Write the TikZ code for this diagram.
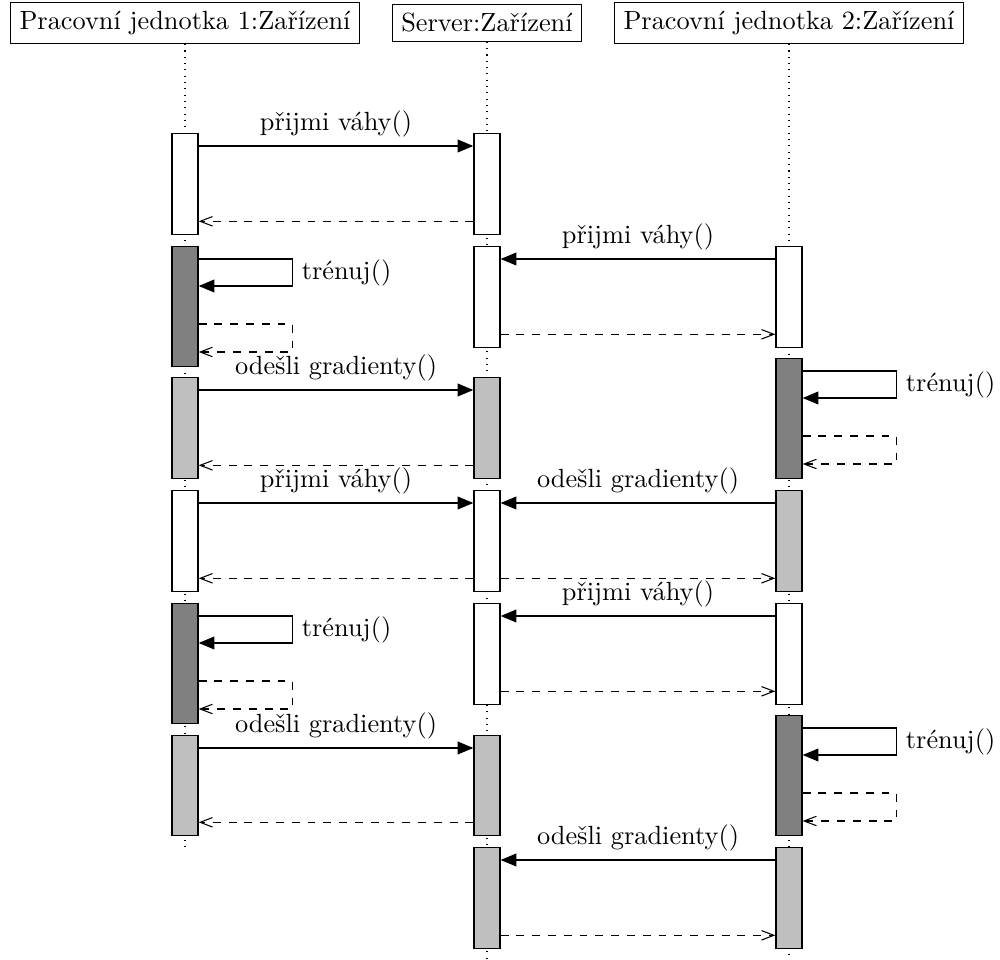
\documentclass[tikz,border=0pt]{standalone}
\usepackage{fontspec}
\usetikzlibrary{arrows.meta}

% activation box: #1 name, #2 x of lifeline, #3 top, #4 bottom, #5 fill
\newcommand\actbox[5]{%
  \node[actstyle, fill=#5, minimum height={(#4-#3)*0.38pt}] (#1) at (#2,#3) {};}

\begin{document}
\begin{tikzpicture}[x=0.38pt,y=-0.38pt,
  thread/.style={draw, line width=0.4pt, fill=white, inner sep=3.33pt},
  lifeline/.style={dotted, line width=0.4pt},
  actstyle/.style={draw, line width=0.5pt, anchor=north, inner sep=0pt,
    minimum width={26*0.38pt}},
  call/.style={line width=0.4pt, -{Triangle[length=6pt,width=4.9pt]}},
  ret/.style={dashed, line width=0.4pt, -{Straight Barb[length=4.7pt,width=3.6pt]}},
  lbl/.style={above, inner sep=3.33pt},
  slbl/.style={right, inner sep=3.33pt},
]
\useasboundingbox (0,0) rectangle (1000,960);

% objects
\node[thread] (h1) at (185,23) {Pracovní jednotka 1:Zařízení};
\node[thread] (h2) at (487,23) {Server:Zařízení};
\node[thread] (h3) at (789,23) {Pracovní jednotka 2:Zařízení};

% lifelines
\coordinate (e1) at (185,848);
\coordinate (e2) at (487,962);
\coordinate (e3) at (789,962);
\draw[lifeline] (h1.south) -- (e1);
\draw[lifeline] (h2.south) -- (e2);
\draw[lifeline] (h3.south) -- (e3);

% activations, workstation 1
\actbox{A1}{185}{133}{234}{white}
\actbox{A2}{185}{246}{366}{gray}
\actbox{A3}{185}{377}{478}{lightgray}
\actbox{A4}{185}{490}{591}{white}
\actbox{A5}{185}{603}{723}{gray}
\actbox{A6}{185}{735}{835}{lightgray}
% activations, server
\actbox{B1}{487}{133}{234}{white}
\actbox{B2}{487}{246}{347}{white}
\actbox{B3}{487}{377}{478}{lightgray}
\actbox{B4}{487}{490}{591}{white}
\actbox{B5}{487}{603}{704}{white}
\actbox{B6}{487}{735}{835}{lightgray}
\actbox{B7}{487}{847}{948}{lightgray}
% activations, workstation 2
\actbox{C1}{789}{246}{347}{white}
\actbox{C2}{789}{358}{478}{gray}
\actbox{C3}{789}{490}{591}{lightgray}
\actbox{C4}{789}{603}{704}{white}
\actbox{C5}{789}{715}{835}{gray}
\actbox{C6}{789}{847}{948}{lightgray}

% calls from workstation 1 to the server
\draw[call] (A1.north east) ++(0,13) coordinate (m1) -- node[lbl] {přijmi váhy()} (B1.west |- m1);
\draw[ret] (B1.south west) ++(0,-14) coordinate (r1) -- (A1.east |- r1);
\draw[call] (A3.north east) ++(0,13) coordinate (m3) -- node[lbl] {odešli gradienty()} (B3.west |- m3);
\draw[ret] (B3.south west) ++(0,-14) coordinate (r3) -- (A3.east |- r3);
\draw[call] (A4.north east) ++(0,13) coordinate (m4) -- node[lbl] {přijmi váhy()} (B4.west |- m4);
\draw[ret] (B4.south west) ++(0,-14) coordinate (r4) -- (A4.east |- r4);
\draw[call] (A6.north east) ++(0,13) coordinate (m6) -- node[lbl] {odešli gradienty()} (B6.west |- m6);
\draw[ret] (B6.south west) ++(0,-14) coordinate (r6) -- (A6.east |- r6);

% calls from workstation 2 to the server
\draw[call] (C1.north west) ++(0,13) coordinate (n1) -- node[lbl] {přijmi váhy()} (B2.east |- n1);
\draw[ret] (B2.south east) ++(0,-14) coordinate (s1) -- (C1.west |- s1);
\draw[call] (C3.north west) ++(0,13) coordinate (n3) -- node[lbl] {odešli gradienty()} (B4.east |- n3);
\draw[ret] (B4.south east) ++(0,-14) coordinate (s3) -- (C3.west |- s3);
\draw[call] (C4.north west) ++(0,13) coordinate (n4) -- node[lbl] {přijmi váhy()} (B5.east |- n4);
\draw[ret] (B5.south east) ++(0,-14) coordinate (s4) -- (C4.west |- s4);
\draw[call] (C6.north west) ++(0,13) coordinate (n6) -- node[lbl] {odešli gradienty()} (B7.east |- n6);
\draw[ret] (B7.south east) ++(0,-14) coordinate (s6) -- (C6.west |- s6);

% local training: self call and its return
\foreach \b in {A2,A5,C2,C5}{
  \draw[call] (\b.north east) ++(0,13) -- ++(94,0)
    -- node[slbl] {trénuj()} ++(0,27) coordinate (\b c) -- (\b.east |- \b c);
  \draw[ret] (\b.north east) ++(0,78) -- ++(94,0)
    -- ++(0,28) coordinate (\b d) -- (\b.east |- \b d);
}
\end{tikzpicture}
\end{document}
